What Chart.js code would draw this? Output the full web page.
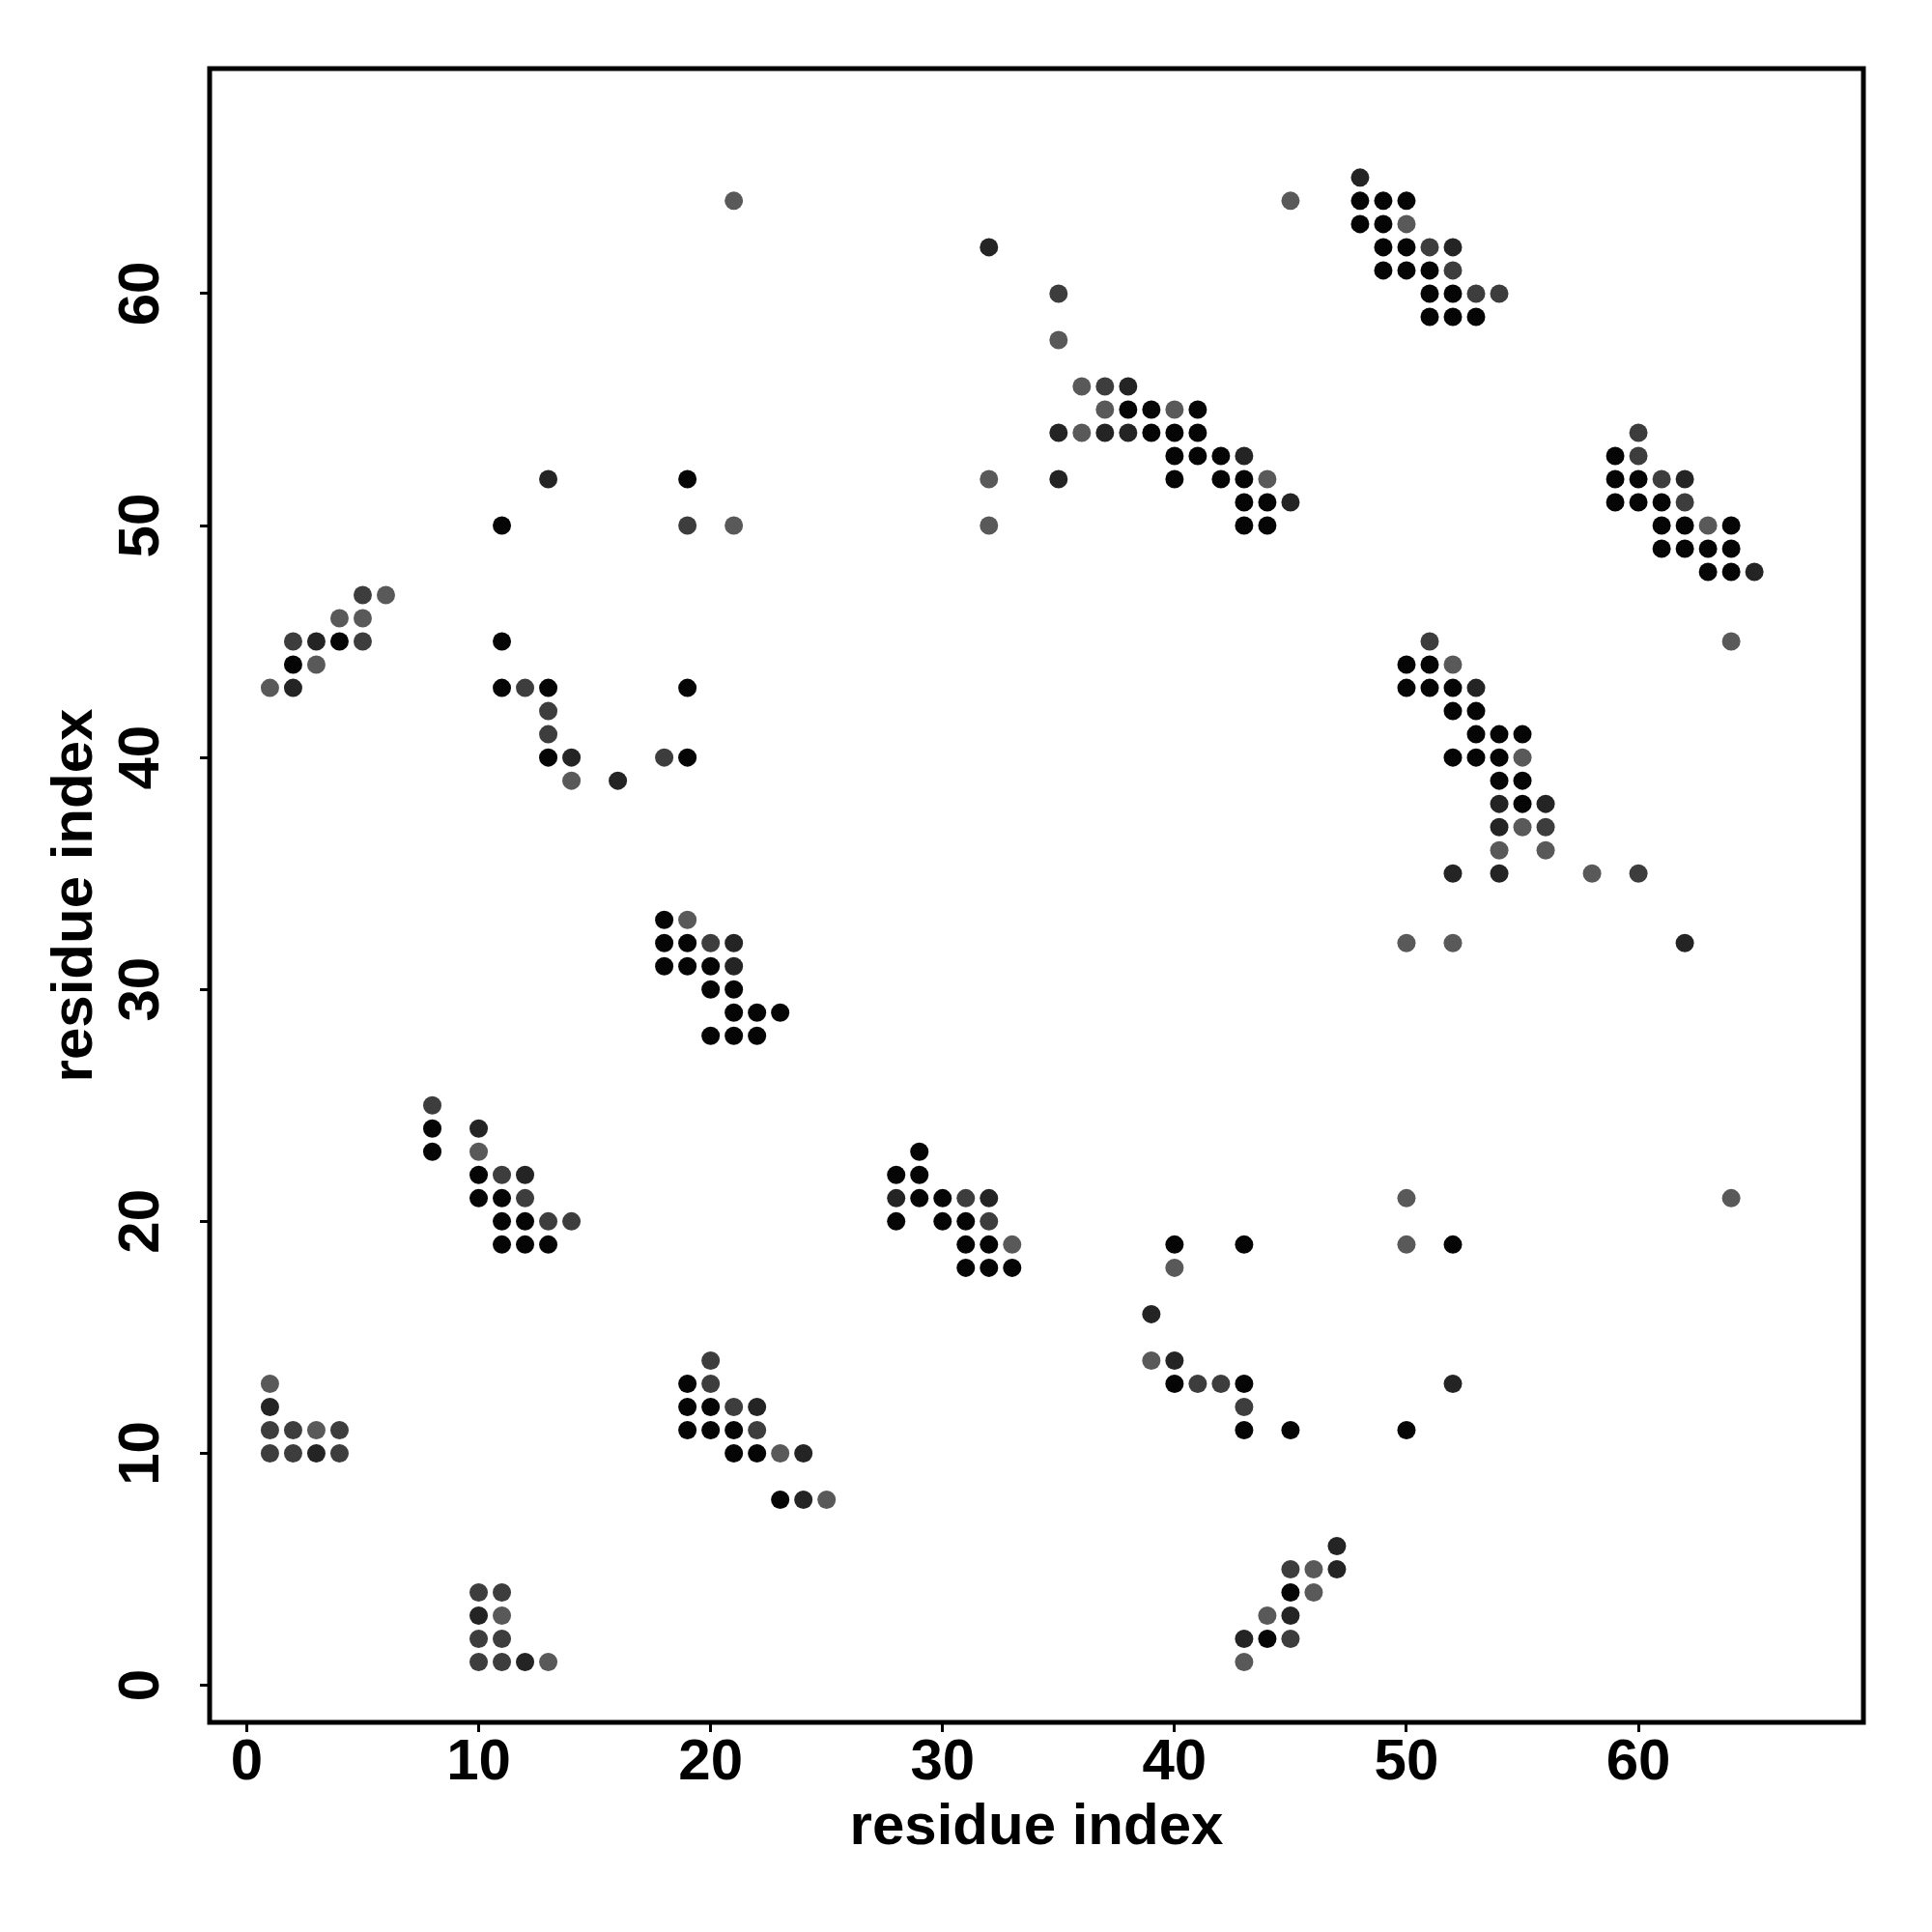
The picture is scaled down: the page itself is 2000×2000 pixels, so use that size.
<!DOCTYPE html>
<html>
<head>
<meta charset="utf-8">
<script src="https://cdn.jsdelivr.net/npm/chart.js@4.4.0/dist/chart.umd.min.js"></script>
<style>
  html, body { margin: 0; padding: 0; background: #fff; }
  #wrap { width: 2000px; height: 2000px; }
</style>
</head>
<body>
<div id="wrap"><canvas id="contactMap" width="2000" height="2000"></canvas></div>
<script>
// contact pairs, residue i (x) vs residue j (y), grouped by cluster
const resX = [
    1, 1, 1, 2, 3, 4, 1, 2, 3, 4,
    10, 11, 10, 11, 10, 11, 10, 11, 12, 13,
    5, 6, 4, 5, 2, 3, 4, 5, 2, 3, 1, 2,
    11, 11, 12, 13, 13, 13, 13, 14, 14, 16, 18, 19, 19,
    11, 13, 19, 19, 21, 21,
    18, 19, 18, 19, 20, 21, 18, 19, 20, 21, 20, 21, 21, 22, 23, 20, 21, 22,
    8, 8, 10, 8, 10, 10, 11, 12, 10, 11, 12, 11, 12, 13, 14, 11, 12, 13,
    20, 19, 20, 19, 20, 21, 22, 19, 20, 21, 22, 21, 22, 23, 24, 23, 24, 25,
    29, 28, 29, 28, 29, 30, 31, 32, 28, 30, 31, 32, 31, 32, 33, 31, 32, 33,
    40, 43, 40, 39, 39, 40, 40, 41, 42, 43, 43, 43, 45,
    47, 45, 46, 47, 45, 46, 44, 45, 43, 44, 45, 43,
    50, 64, 50, 52, 52, 50,
    45, 32, 35, 35, 36, 37, 38, 37, 38, 39, 40, 41, 35, 36, 37, 38, 39, 40, 41,
    40, 41, 42, 43, 32, 35, 40, 42, 43, 44, 43, 44, 45, 32, 43, 44,
    48, 48, 49, 50, 48, 49, 50, 49, 50, 51, 52, 49, 50, 51, 52, 51, 52, 53, 54, 51, 52, 53,
    60, 59, 60, 59, 60, 61, 62, 59, 60, 61, 62, 61, 62, 63, 64, 61, 62, 63, 64, 63, 64, 65,
    51, 64, 50, 51, 52, 50, 51, 52, 53, 52, 53, 53, 54, 55, 52, 53, 54, 55, 54, 55,
    54, 55, 56, 54, 55, 56, 54, 56, 52, 54, 58, 60, 50, 52, 62
];
const resY = [
    13, 12, 11, 11, 11, 11, 10, 10, 10, 10,
    4, 4, 3, 3, 2, 2, 1, 1, 1, 1,
    47, 47, 46, 46, 45, 45, 45, 45, 44, 44, 43, 43,
    45, 43, 43, 43, 42, 41, 40, 40, 39, 39, 40, 40, 43,
    50, 52, 52, 50, 50, 64,
    33, 33, 32, 32, 32, 32, 31, 31, 31, 31, 30, 30, 29, 29, 29, 28, 28, 28,
    25, 24, 24, 23, 23, 22, 22, 22, 21, 21, 21, 20, 20, 20, 20, 19, 19, 19,
    14, 13, 13, 12, 12, 12, 12, 11, 11, 11, 11, 10, 10, 10, 10, 8, 8, 8,
    23, 22, 22, 21, 21, 21, 21, 21, 20, 20, 20, 20, 19, 19, 19, 18, 18, 18,
    19, 19, 18, 16, 14, 14, 13, 13, 13, 13, 12, 11, 11,
    6, 5, 5, 5, 4, 4, 3, 3, 2, 2, 2, 1,
    21, 21, 19, 19, 13, 11,
    64, 62, 60, 58, 56, 56, 56, 55, 55, 55, 55, 55, 54, 54, 54, 54, 54, 54, 54,
    53, 53, 53, 53, 52, 52, 52, 52, 52, 52, 51, 51, 51, 50, 50, 50,
    65, 64, 64, 64, 63, 63, 63, 62, 62, 62, 62, 61, 61, 61, 61, 60, 60, 60, 60, 59, 59, 59,
    54, 53, 53, 52, 52, 52, 52, 51, 51, 51, 51, 50, 50, 50, 50, 49, 49, 49, 49, 48, 48, 48,
    45, 45, 44, 44, 44, 43, 43, 43, 43, 42, 42, 41, 41, 41, 40, 40, 40, 40, 39, 39,
    38, 38, 38, 37, 37, 37, 36, 36, 35, 35, 35, 35, 32, 32, 32
];
// grey level of each dot: 0 = black ... 3 = lightest grey
const shade = [
    3, 1, 2, 2, 3, 2, 2, 2, 1, 2,
    2, 2, 1, 3, 2, 2, 2, 2, 1, 3,
    2, 3, 3, 3, 2, 1, 0, 2, 0, 3, 3, 1,
    0, 0, 2, 0, 2, 2, 0, 1, 3, 1, 2, 0, 0,
    0, 1, 0, 2, 3, 3,
    0, 3, 0, 0, 2, 1, 0, 0, 0, 1, 0, 0, 0, 0, 0, 0, 0, 0,
    2, 0, 1, 0, 3, 0, 2, 1, 0, 0, 2, 0, 0, 2, 2, 0, 0, 0,
    2, 0, 2, 0, 0, 2, 1, 0, 0, 0, 2, 0, 0, 3, 1, 0, 1, 3,
    0, 0, 0, 1, 0, 0, 2, 1, 0, 0, 0, 2, 0, 0, 3, 0, 0, 0,
    0, 0, 3, 1, 3, 1, 0, 2, 2, 0, 2, 0, 0,
    1, 2, 3, 1, 0, 3, 3, 1, 1, 0, 2, 3,
    3, 3, 3, 0, 1, 0,
    3, 1, 2, 3, 3, 2, 1, 3, 0, 0, 3, 0, 1, 3, 1, 1, 0, 0, 0,
    0, 0, 0, 1, 3, 1, 0, 0, 0, 3, 0, 0, 1, 3, 0, 0,
    1, 0, 0, 0, 0, 0, 3, 0, 0, 2, 1, 0, 0, 0, 2, 0, 0, 2, 2, 0, 0, 0,
    2, 0, 2, 0, 0, 2, 1, 0, 0, 0, 2, 0, 0, 3, 0, 0, 0, 0, 0, 0, 0, 1,
    2, 3, 0, 0, 3, 0, 0, 0, 1, 0, 0, 0, 0, 0, 0, 0, 0, 3, 0, 0,
    1, 0, 1, 1, 3, 2, 3, 3, 1, 1, 3, 2, 3, 3, 1
];
const tickValues = [0, 10, 20, 30, 40, 50, 60];
const xTitle = 'residue index';
const yTitle = 'residue index';

const greys = ['#050505', '#242424', '#3d3d3d', '#595959'];
const fontFamily = '"Liberation Sans", Arial, Helvetica, sans-serif';

const points = resX.map((x, i) => ({ x: x, y: resY[i] }));
const colors = shade.map(s => greys[s]);

// box around the plotting region, R style
const frame = {
    id: 'frame',
    afterDatasetsDraw(chart) {
        const { ctx, chartArea: a } = chart;
        ctx.save();
        ctx.strokeStyle = '#000';
        ctx.lineWidth = 5;
        ctx.strokeRect(a.left, a.top, a.right - a.left, a.bottom - a.top);
        ctx.restore();
    }
};

const tickFont = { family: fontFamily, size: 60, weight: 'bold' };
const setTicks = scale => { scale.ticks = tickValues.map(v => ({ value: v })); };
const gridOpts = {
    drawOnChartArea: false,
    drawTicks: true,
    tickLength: 10,
    tickWidth: 3,
    tickColor: '#000',
    color: '#000'
};

const ctx = document.getElementById('contactMap').getContext('2d');
new Chart(ctx, {
    type: 'scatter',
    data: {
        datasets: [{
            data: points,
            pointBackgroundColor: colors,
            pointBorderWidth: 0,
            pointRadius: 9.5,
            pointHoverRadius: 9.5
        }]
    },
    options: {
        responsive: false,
        animation: false,
        devicePixelRatio: 1,
        layout: { padding: { top: 71, right: 71, left: 0, bottom: 0 } },
        plugins: {
            legend: { display: false },
            tooltip: { enabled: false }
        },
        scales: {
            x: {
                type: 'linear',
                position: 'bottom',
                min: -1.6,
                max: 69.7,
                afterBuildTicks: setTicks,
                afterFit: scale => { scale.height = 217; },
                grid: gridOpts,
                border: { display: false },
                ticks: {
                    color: '#000',
                    font: tickFont,
                    padding: -4,
                    minRotation: 0,
                    maxRotation: 0,
                    autoSkip: false
                },
                title: {
                    display: true,
                    text: xTitle,
                    color: '#000',
                    font: tickFont,
                    padding: { top: 0, bottom: 72 }
                }
            },
            y: {
                type: 'linear',
                position: 'left',
                min: -1.6,
                max: 69.7,
                afterBuildTicks: setTicks,
                afterFit: scale => { scale.width = 217; },
                grid: gridOpts,
                border: { display: false },
                ticks: {
                    color: '#000',
                    font: tickFont,
                    padding: 26,
                    minRotation: 90,
                    maxRotation: 90,
                    crossAlign: 'center',
                    autoSkip: false
                },
                title: {
                    display: true,
                    text: yTitle,
                    color: '#000',
                    font: tickFont,
                    padding: { top: 42, bottom: 0 }
                }
            }
        }
    },
    plugins: [frame]
});
</script>
</body>
</html>
